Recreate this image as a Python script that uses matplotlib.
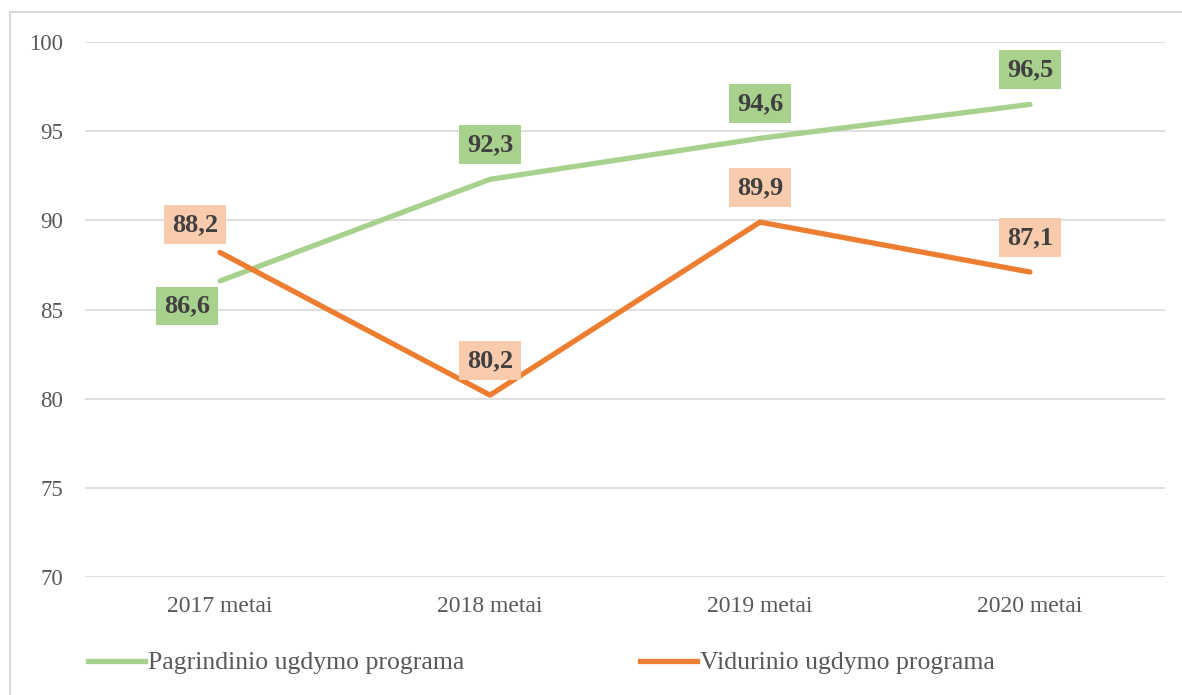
import matplotlib
matplotlib.use("Agg")
import matplotlib.pyplot as plt
from matplotlib.lines import Line2D

categories = ["2017 metai", "2018 metai", "2019 metai", "2020 metai"]
pagrindinio = [86.6, 92.3, 94.6, 96.5]
vidurinio = [88.2, 80.2, 89.9, 87.1]
series_names = ["Pagrindinio ugdymo programa", "Vidurinio ugdymo programa"]
yticks = [70, 75, 80, 85, 90, 95, 100]

green = "#A9D18E"
orange = "#ED7D31"
orange_box = "#F8CBAD"
txt = "#595959"

plt.rcParams["font.family"] = ["Liberation Serif", "DejaVu Serif"]

W, H = 1182, 695
fig = plt.figure(figsize=(W / 100, H / 100), dpi=100)
ax = fig.add_axes([85 / W, 1 - 577 / H, 1080 / W, (577 - 42) / H])

x = list(range(len(categories)))
ax.plot(x, pagrindinio, color=green, lw=3.8, solid_capstyle="round", zorder=3)
ax.plot(x, vidurinio, color=orange, lw=3.8, solid_capstyle="round", zorder=3)

ax.set_xlim(-0.5, len(categories) - 0.5)
ax.set_ylim(70, 100)
ax.set_yticks(yticks)
ax.set_yticklabels([str(v) for v in yticks])
ax.set_xticks(x)
ax.set_xticklabels(categories)
ax.tick_params(axis="both", length=0, colors=txt)
ax.tick_params(axis="y", pad=15.5, labelsize=16.5)
ax.tick_params(axis="x", pad=14, labelsize=17)
ax.grid(axis="y", color="#D9D9D9", lw=1.2)
ax.set_axisbelow(True)
for s in ax.spines.values():
    s.set_visible(False)

def label(xi, yi, text, fc, dx, dy):
    ax.annotate(text, (xi, yi), xytext=(dx, dy), textcoords="offset points",
                ha="center", va="center", fontsize=19, fontweight="bold",
                color="#404040", zorder=5,
                bbox=dict(boxstyle="square,pad=0.3", fc=fc, ec="none"))

label(0, pagrindinio[0], "86,6", green, -24, -18)
for i in range(1, 4):
    label(i, pagrindinio[i], f"{pagrindinio[i]:.1f}".replace(".", ","), green, 0, 25)
label(0, vidurinio[0], "88,2", orange_box, -18, 20)
for i in range(1, 4):
    label(i, vidurinio[i], f"{vidurinio[i]:.1f}".replace(".", ","), orange_box, 0, 25)

colors = [green, orange]
starts = [88, 640]
for name, c, sx in zip(series_names, colors, starts):
    fig.legend([Line2D([], [], color=c, lw=3.8)], [name], loc="center left",
               bbox_to_anchor=(sx / W, 1 - 663 / H), frameon=False, fontsize=18.5,
               handlelength=2.2, handletextpad=0.12, borderpad=0, borderaxespad=0,
               labelcolor=txt)

# outer border
fig.add_artist(Line2D([10 / W, 10 / W], [0, 1 - 12 / H], transform=fig.transFigure,
                      color="#D9D9D9", lw=1.5))
fig.add_artist(Line2D([10 / W, 1], [1 - 12 / H, 1 - 12 / H], transform=fig.transFigure,
                      color="#D9D9D9", lw=1.5))

fig.savefig("out.png", dpi=100, facecolor="white")
